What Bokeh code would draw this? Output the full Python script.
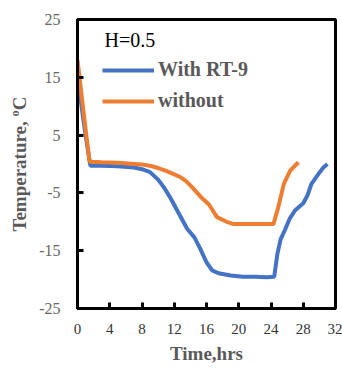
from bokeh.plotting import figure
from bokeh.models import Range1d, FixedTicker, Legend, LegendItem, Label
from bokeh.embed import file_html
from bokeh.resources import INLINE

# Temperature histories, H = 0.5
time_rt9 = [0, 0.5, 1.0, 1.6, 3, 5, 7, 8, 9, 10, 10.7, 11.5, 12.5, 13.6, 14.5, 15.2,
            16, 16.7, 17.5, 19, 20.5, 22, 23.5, 24.4, 24.8, 25.2, 25.7, 26.3, 27, 28,
            28.5, 29, 29.5, 30, 30.5, 31]
temp_rt9 = [15, 10, 5, -0.3, -0.3, -0.4, -0.6, -0.9, -1.4, -2.7, -4.0, -5.8, -8.4, -11.2,
            -12.7, -14.6, -17.0, -18.4, -18.9, -19.3, -19.5, -19.5, -19.6, -19.5, -15.5,
            -13.0, -11.5, -9.5, -8.0, -6.8, -5.5, -3.5, -2.5, -1.5, -0.6, 0.0]

time_without = [0, 0.5, 1.0, 1.5, 3, 5, 7, 8, 9, 10, 11, 12, 12.8, 13.5, 14.2, 15.3, 16.3,
                17.3, 18.5, 19.4, 21, 22.7, 24.3, 24.9, 25.6, 26.4, 27.4]
temp_without = [18, 12, 6, 0.4, 0.3, 0.2, 0.0, -0.1, -0.3, -0.7, -1.2, -1.8, -2.3, -3.0,
                -4.0, -5.7, -7.0, -9.2, -10.0, -10.4, -10.4, -10.4, -10.4, -7.5, -3.4,
                -1.1, 0.3]

x_ticks = [0, 4, 8, 12, 16, 20, 24, 28, 32]
y_ticks = [-25, -15, -5, 5, 15, 25]

serif = "Liberation Serif"

p = figure(width=342, height=370, output_backend="svg", toolbar_location=None,
           x_range=Range1d(0, 32), y_range=Range1d(-25, 25),
           min_border_left=77, min_border_right=7, min_border_top=19, min_border_bottom=62)

p.grid.visible = False
p.background_fill_color = "white"
p.border_fill_color = "white"
p.outline_line_color = "black"
p.outline_line_width = 3

for ax in (p.xaxis[0], p.yaxis[0]):
    ax.axis_line_width = 3
    ax.axis_line_color = "black"
    ax.major_tick_line_width = 3
    ax.major_tick_line_color = "black"
    ax.major_tick_in = 6
    ax.major_tick_out = 0
    ax.minor_tick_line_color = None
    ax.major_label_text_font = serif
    ax.axis_label_text_font = serif
    ax.axis_label_text_font_style = "bold"
    ax.axis_label_text_color = "#595959"

p.xaxis.ticker = FixedTicker(ticks=x_ticks)
p.yaxis.ticker = FixedTicker(ticks=y_ticks)
p.yaxis.major_label_overrides = {t: str(t) for t in y_ticks}
p.xaxis.major_label_text_font_size = "15px"
p.yaxis.major_label_text_font_size = "16px"
p.xaxis.major_label_text_color = "#333333"
p.yaxis.major_label_text_color = "#666666"
p.xaxis.major_label_standoff = 15
p.yaxis.major_label_standoff = 17
p.xaxis.axis_label = "Time,hrs"
p.yaxis.axis_label = "Temperature, ºC"
p.xaxis.axis_label_text_font_size = "19px"
p.yaxis.axis_label_text_font_size = "19px"
p.xaxis.axis_label_standoff = 6
p.yaxis.axis_label_standoff = 6

r1 = p.line(time_rt9, temp_rt9, line_color="#4472C4", line_width=4)
r2 = p.line(time_without, temp_without, line_color="#ED7D31", line_width=4)

legend = Legend(items=[LegendItem(label="With RT-9", renderers=[r1]),
                       LegendItem(label="without", renderers=[r2])],
                location=(25, 196), padding=0, margin=0, spacing=8,
                glyph_width=52, glyph_height=20, label_height=20, label_standoff=4,
                border_line_color=None, background_fill_alpha=0,
                label_text_font=serif, label_text_font_style="bold",
                label_text_font_size="20px", label_text_color="#595959")
p.add_layout(legend)

p.add_layout(Label(x=3.35, y=21.5, text="H=0.5", text_font=serif, text_font_size="20px",
                   text_color="black", text_baseline="middle"))

open("out.html", "w").write(file_html(p, INLINE))
